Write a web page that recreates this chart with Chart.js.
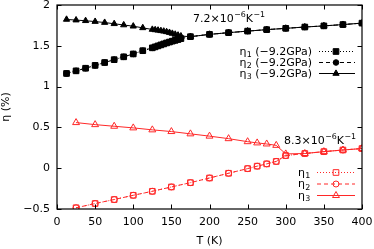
<!DOCTYPE html>
<html>
<head>
<meta charset="utf-8">
<script src="https://cdn.jsdelivr.net/npm/chart.js@4.4.0/dist/chart.umd.min.js"></script>
<style>
html,body{margin:0;padding:0;background:#fff;}
canvas{display:block;}
</style>
</head>
<body>
<canvas id="c" width="374" height="249"></canvas>
<script>
// ---- data ----
const tempsBlack = [12.5,25,37.5,50,62.5,75,87.5,100,112.5,125,128.75,132.5,136.25,140,143.75,147.5,151.25,155,158.75,162.5,175,200,225,250,275,300,325,350,375,400];
const eta1Black  = [1.161,1.193,1.225,1.26,1.295,1.33,1.365,1.40,1.44,1.475,1.487,1.499,1.511,1.523,1.535,1.546,1.557,1.567,1.577,1.588,1.612,1.640,1.661,1.680,1.698,1.714,1.730,1.744,1.760,1.778];
const eta2Black  = [1.161,1.193,1.225,1.26,1.295,1.33,1.365,1.40,1.44,1.475,1.487,1.499,1.511,1.523,1.535,1.546,1.557,1.567,1.577,1.588,1.612,1.640,1.661,1.680,1.698,1.714,1.730,1.744,1.760,1.778];
const eta3Black  = [1.823,1.815,1.807,1.797,1.785,1.770,1.755,1.740,1.720,1.700,1.695,1.690,1.684,1.678,1.671,1.662,1.651,1.640,1.629,1.619,1.612,1.640,1.661,1.680,1.698,1.714,1.730,1.744,1.760,1.778];

const tempsRed = [25,50,75,100,125,150,175,200,225,250,262.5,275,287.5,300,325,350,375,400];
const eta1Red  = [-0.485,-0.433,-0.384,-0.332,-0.283,-0.230,-0.177,-0.120,-0.062,-0.005,0.025,0.053,0.083,0.155,0.180,0.203,0.223,0.241];
const eta2Red  = [-0.485,-0.433,-0.384,-0.332,-0.283,-0.230,-0.177,-0.120,-0.062,-0.005,0.025,0.053,0.083,0.155,0.180,0.203,0.223,0.241];
const eta3Red  = [0.559,0.534,0.514,0.494,0.470,0.449,0.421,0.393,0.362,0.325,0.310,0.297,0.280,0.175,0.180,0.203,0.223,0.241];

const xTicks = [0,50,100,150,200,250,300,350,400];
const yTicks = [-0.5,0,0.5,1,1.5,2];

const blackLabels = ['(\u22129.2GPa)','(\u22129.2GPa)','(\u22129.2GPa)'];
const annotTop = ['7.2\u00d710','\u22126','K','\u22121'];
const annotBot = ['8.3\u00d710','\u22126','K','\u22121'];

const RED = 'rgb(255,40,40)';
const FONT = 'DejaVu Sans';
const FS = 11;

function pts(xs, ys){ return xs.map((x,i)=>({x:x, y:ys[i]})); }

const blk = {
  eta1: {pointStyle:'rect', radius:4.0, dash:[1,2]},
  eta2: {pointStyle:'circle', radius:2.8, dash:[4,3]},
  eta3: {pointStyle:'triangle', radius:3.6, dash:[]}
};
const red = {
  eta1: {pointStyle:'rect', radius:4.0, dash:[1,2]},
  eta2: {pointStyle:'circle', radius:3.0, dash:[4,3]},
  eta3: {pointStyle:'triangle', radius:4.0, dash:[]}
};

function ds(label, data, color, st, fill, order){
  return {
    label: label, data: data, order: order,
    borderColor: color, borderWidth: 1, borderDash: st.dash,
    pointStyle: st.pointStyle, pointRadius: st.radius,
    pointBackgroundColor: fill, pointBorderColor: color, pointBorderWidth: 1,
    tension: 0, fill: false, showLine: true
  };
}

const datasets = [
  ds('eta1b', pts(tempsBlack, eta1Black), '#000', blk.eta1, '#000', 1),
  ds('eta2b', pts(tempsBlack, eta2Black), '#000', blk.eta2, '#000', 2),
  ds('eta3b', pts(tempsBlack, eta3Black), '#000', blk.eta3, '#000', 3),
  ds('eta1r', pts(tempsRed, eta1Red), RED, red.eta1, 'rgba(0,0,0,0)', 4),
  ds('eta2r', pts(tempsRed, eta2Red), RED, red.eta2, 'rgba(0,0,0,0)', 5),
  ds('eta3r', pts(tempsRed, eta3Red), RED, red.eta3, 'rgba(0,0,0,0)', 6)
];

function drawEta(ctx, x, y, sub, color){
  ctx.fillStyle = color;
  ctx.font = FS + 'px "' + FONT + '"';
  ctx.textAlign = 'left'; ctx.textBaseline = 'alphabetic';
  ctx.fillText('\u03b7', x, y);
  const w = ctx.measureText('\u03b7').width;
  ctx.font = (FS*0.72) + 'px "' + FONT + '"';
  ctx.fillText(sub, x + w + 0.3, y + 2.5);
  return w + 0.3 + ctx.measureText(sub).width;
}

function drawAnnot(ctx, x, y, parts, color){
  ctx.fillStyle = color; ctx.textAlign='left'; ctx.textBaseline='alphabetic';
  const big = FS + 'px "' + FONT + '"', small = (FS*0.72) + 'px "' + FONT + '"';
  let cx = x;
  ctx.font = big; ctx.fillText(parts[0], cx, y); cx += ctx.measureText(parts[0]).width;
  ctx.font = small; ctx.fillText(parts[1], cx + 0.5, y - 5); cx += ctx.measureText(parts[1]).width + 0.5;
  ctx.font = big; ctx.fillText(parts[2], cx, y); cx += ctx.measureText(parts[2]).width;
  ctx.font = small; ctx.fillText(parts[3], cx + 0.3, y - 5);
}

const H = Chart.helpers;

const deco = {
  id: 'deco',
  afterDraw(chart){
    const ctx = chart.ctx, a = chart.chartArea, xs = chart.scales.x, ys = chart.scales.y;
    ctx.save();
    ctx.strokeStyle = '#000'; ctx.lineWidth = 1.2; ctx.setLineDash([]);
    ctx.strokeRect(a.left, a.top, a.right - a.left, a.bottom - a.top);
    ctx.lineWidth = 1;
    const tl = 4.5;
    ctx.beginPath();
    xs.ticks.forEach(t => {
      const px = Math.round(xs.getPixelForValue(t.value)) + 0.5;
      ctx.moveTo(px, a.bottom); ctx.lineTo(px, a.bottom - tl);
      ctx.moveTo(px, a.top); ctx.lineTo(px, a.top + tl);
    });
    ys.ticks.forEach(t => {
      const py = Math.round(ys.getPixelForValue(t.value)) + 0.5;
      ctx.moveTo(a.left, py); ctx.lineTo(a.left + tl, py);
      ctx.moveTo(a.right, py); ctx.lineTo(a.right - tl, py);
    });
    ctx.stroke();

    drawAnnot(ctx, 193, 22, annotTop, '#000');
    drawAnnot(ctx, 284, 143.5, annotBot, '#000');

    const bl = [
      {st: blk.eta1, y: 51, sub:'1'},
      {st: blk.eta2, y: 62, sub:'2'},
      {st: blk.eta3, y: 73, sub:'3'}
    ];
    bl.forEach((e, i) => {
      ctx.font = FS + 'px "' + FONT + '"';
      const lab = ' ' + blackLabels[i];
      const lw = ctx.measureText(lab).width;
      const ew = ctx.measureText('\u03b7').width + 0.3;
      ctx.font = (FS*0.72) + 'px "' + FONT + '"';
      const sw = ctx.measureText(e.sub).width;
      const x0 = 312 - (ew + sw + lw);
      const base = e.y + 3.5;
      drawEta(ctx, x0, base, e.sub, '#000');
      ctx.font = FS + 'px "' + FONT + '"';
      ctx.textAlign = 'left';
      ctx.fillText(lab, x0 + ew + sw, base);
      ctx.strokeStyle = '#000'; ctx.lineWidth = 1; ctx.setLineDash(e.st.dash);
      ctx.beginPath(); ctx.moveTo(319, e.y + 0.5); ctx.lineTo(355, e.y + 0.5); ctx.stroke();
      ctx.setLineDash([]);
      ctx.fillStyle = '#000'; ctx.strokeStyle = '#000';
      H.drawPoint(ctx, {pointStyle: e.st.pointStyle, radius: e.st.radius, borderWidth: 1, rotation: 0}, 336, e.y + 0.5);
    });
    const rl = [
      {st: red.eta1, y: 172, sub:'1'},
      {st: red.eta2, y: 183.5, sub:'2'},
      {st: red.eta3, y: 195, sub:'3'}
    ];
    rl.forEach(e => {
      drawEta(ctx, 298, e.y + 3.5, e.sub, '#000');
      ctx.strokeStyle = RED; ctx.lineWidth = 1; ctx.setLineDash(e.st.dash);
      ctx.beginPath(); ctx.moveTo(317, e.y + 0.5); ctx.lineTo(355, e.y + 0.5); ctx.stroke();
      ctx.setLineDash([]);
      ctx.fillStyle = 'rgba(0,0,0,0)'; ctx.strokeStyle = RED;
      H.drawPoint(ctx, {pointStyle: e.st.pointStyle, radius: e.st.radius, borderWidth: 1, rotation: 0}, 336, e.y + 0.5);
    });
    ctx.restore();
  }
};

new Chart(document.getElementById('c'), {
  type: 'scatter',
  data: { datasets: datasets },
  plugins: [deco],
  options: {
    responsive: false, devicePixelRatio: 1, animation: false,
    layout: { padding: { left: 0, right: 12, top: 4, bottom: 0 } },
    plugins: { legend: { display: false }, tooltip: { enabled: false } },
    scales: {
      x: {
        type: 'linear', min: 0, max: 400,
        afterBuildTicks: s => { s.ticks = xTicks.map(v => ({value: v})); },
        afterFit: s => { s.height = 40; s.paddingLeft = 0; s.paddingRight = 0; },
        grid: { display: false, drawTicks: false },
        border: { display: false },
        ticks: { color: '#000', padding: 7, font: { family: FONT, size: FS }, maxRotation: 0, autoSkip: false,
                 callback: v => String(v) },
        title: { display: true, text: 'T (K)', color: '#000', font: { family: FONT, size: FS }, padding: { top: 0, bottom: 1 } }
      },
      y: {
        type: 'linear', min: -0.5, max: 2,
        afterBuildTicks: s => { s.ticks = yTicks.map(v => ({value: v})); },
        afterFit: s => { s.width = 57; s.paddingTop = 0; s.paddingBottom = 0; },
        grid: { display: false, drawTicks: false },
        border: { display: false },
        ticks: { color: '#000', padding: 7, font: { family: FONT, size: FS }, autoSkip: false,
                 callback: v => v < 0 ? '\u2212' + String(Math.abs(v)) : String(v) },
        title: { display: true, text: '\u03b7 (%)', color: '#000', font: { family: FONT, size: FS }, padding: { top: 0, bottom: 0 } }
      }
    }
  }
});
</script>
</body>
</html>
